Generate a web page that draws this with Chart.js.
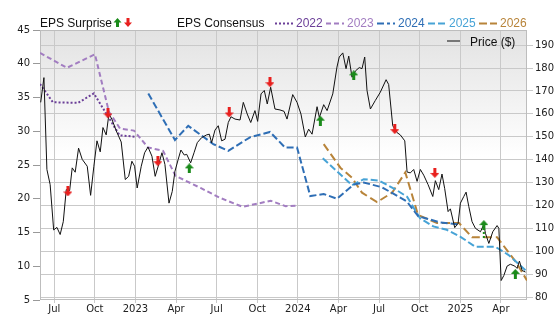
<!DOCTYPE html>
<html>
<head>
<meta charset="utf-8">
<script src="https://cdn.jsdelivr.net/npm/chart.js@4.4.1/dist/chart.umd.min.js"></script>
<style>
html,body{margin:0;padding:0;background:#fff;}
#wrap{position:relative;width:556px;height:315px;font-family:"Liberation Sans",Arial,sans-serif;font-size:12px;color:#111;}
#wrap canvas{position:absolute;left:0;top:0;}
#wrap svg{position:absolute;left:0;top:0;}
.lg{position:absolute;line-height:12px;white-space:nowrap;}
</style>
</head>
<body>
<div id="wrap">
<canvas id="grafico" width="556" height="315"></canvas>
<svg width="556" height="50">
  <polygon points="117.5,18 121.5,22.5 119,22.5 119,27 116,27 116,22.5 113.5,22.5" fill="#1a8a1a"/>
  <polygon points="128,27 132,22.5 129.5,22.5 129.5,18 126.5,18 126.5,22.5 124,22.5" fill="#e8201e"/>
  <line x1="275" y1="23.5" x2="293" y2="23.5" stroke="#6b3f98" stroke-width="2" stroke-dasharray="2,2"/>
  <line x1="326" y1="23.5" x2="344" y2="23.5" stroke="#a27dc1" stroke-width="2" stroke-dasharray="5,3"/>
  <line x1="377" y1="23.5" x2="395" y2="23.5" stroke="#2e6eb5" stroke-width="2" stroke-dasharray="7,3,3,3"/>
  <line x1="428" y1="23.5" x2="446" y2="23.5" stroke="#47a3d6" stroke-width="2" stroke-dasharray="7,3"/>
  <line x1="479" y1="23.5" x2="497" y2="23.5" stroke="#b8843a" stroke-width="2" stroke-dasharray="8,3"/>
  <line x1="447" y1="41" x2="460" y2="41" stroke="#777" stroke-width="2"/>
</svg>
<div class="lg" style="left:40px;top:17px">EPS Surprise</div>
<div class="lg" style="left:177px;top:17px">EPS Consensus</div>
<div class="lg" style="left:296px;top:17px;color:#6b3f98">2022</div>
<div class="lg" style="left:347px;top:17px;color:#a27dc1">2023</div>
<div class="lg" style="left:398px;top:17px;color:#2e6eb5">2024</div>
<div class="lg" style="left:449px;top:17px;color:#47a3d6">2025</div>
<div class="lg" style="left:500px;top:17px;color:#b8843a">2026</div>
<div class="lg" style="left:470px;top:36px">Price ($)</div>
</div>
<script>
// eixo x em meses desde jan/2022 (6 = jul/2022)
const tickMeses = [6,9,12,15,18,21,24,27,30,33,36,39];
const tickRotulos = ['Jul','Oct','2023','Apr','Jul','Oct','2024','Apr','Jul','Oct','2025','Apr'];
const ticksEsq = [5,10,15,20,25,30,35,40,45];
const ticksDir = [80,90,100,110,120,130,140,150,160,170,180,190];

// preço (eixo direito)
const precoMes = [5.0,5.24,5.46,5.70,5.96,6.20,6.44,6.67,6.89,7.14,7.33,7.55,7.80,8.07,8.44,8.69,8.93,9.16,9.40,9.60,
  9.84,10.04,10.26,10.58,10.95,11.25,11.50,11.74,11.94,12.13,12.43,12.68,12.93,13.22,13.46,13.72,13.96,14.18,14.48,14.72,
  14.92,15.16,15.36,15.61,15.79,16.08,16.33,16.57,16.89,17.26,17.46,17.63,17.88,18.12,18.37,18.62,18.86,19.06,19.36,19.73,
  19.97,20.26,20.52,20.83,21.03,21.28,21.52,21.74,21.99,22.31,22.68,22.98,23.20,23.62,23.94,24.23,24.55,24.80,25.05,25.42,
  25.59,25.91,26.16,26.58,26.89,27.06,27.32,27.56,27.76,28.00,28.25,28.54,28.74,28.94,29.11,29.36,29.72,30.09,30.52,30.71,
  31.01,31.33,31.57,31.90,32.07,32.31,32.56,32.81,33.05,33.30,33.62,33.97,34.16,34.41,34.65,34.85,35.10,35.27,35.59,35.84,
  36.01,36.26,36.43,36.63,36.87,37.12,37.49,37.74,37.86,38.11,38.40,38.72,38.85,39.02,39.22,39.46,39.70,40.03,40.20,40.37,
  40.57,40.82];
const precoVal = [165.0,175.8,135.7,129.1,109.3,110.4,107.3,112.9,126.9,126.5,136.4,134.5,145.0,140.1,137.1,124.4,137.1,148.2,143.4,154.0,
  150.8,159.9,157.7,152.6,147.7,131.3,132.7,139.3,137.1,127.6,137.1,143.0,145.5,141.5,132.7,137.9,143.0,137.9,121.0,126.1,
  134.9,140.1,144.2,142.0,142.3,138.6,143.0,147.4,149.6,150.8,151.1,147.4,152.9,154.8,148.2,148.9,156.2,158.7,157.7,157.3,
  165.0,159.9,156.2,161.4,156.7,168.7,170.2,164.3,171.6,162.1,161.7,161.1,157.7,168.4,165.0,159.9,149.9,153.3,151.1,163.1,
  158.4,164.0,161.4,168.7,180.4,184.8,186.6,179.7,185.2,176.0,178.7,180.2,179.7,184.8,170.2,162.1,165.8,169.4,174.9,172.8,
  154.8,151.8,150.8,148.2,134.6,134.2,135.7,130.5,135.7,133.2,129.1,123.9,130.8,126.9,133.7,127.3,117.3,118.5,110.3,112.2,
  121.0,123.9,125.8,119.5,112.9,110.0,108.5,111.7,107.8,103.4,108.5,111.2,110.0,87.2,89.4,93.5,94.3,93.5,92.5,95.7,
  91.6,90.9];

// consenso de EPS por ano fiscal (eixo esquerdo)
const cons2022Mes = [4.95,5.9,7.75,8.93,10.83,11.94];
const cons2022 = [37.0,34.3,34.2,35.6,29.4,29.2];
const cons2023Mes = [4.95,6.94,9.01,10.04,10.86,11.89,12.93,14.04,14.96,16.81,18.29,19.92,22.0,23.1,24.0];
const cons2023 = [41.6,39.4,41.4,32.9,30.4,30.1,27.6,27.1,23.4,21.6,20.1,18.8,19.7,18.9,19.0];
const cons2024Mes = [12.95,14.92,15.90,17.75,18.86,20.46,21.94,23.05,23.94,24.92,25.91,26.89,28.13,28.87,30.22,32.05,32.90,34.51,35.86];
const cons2024 = [35.6,28.7,30.8,28.1,27.1,29.1,29.9,27.6,27.6,20.4,20.7,20.0,22.1,22.4,21.7,19.6,17.4,16.5,16.2];
const cons2025Mes = [25.84,28.00,28.87,29.98,31.20,32.07,33.03,34.01,35.0,35.99,37.1,38.58,39.55,40.93];
const cons2025 = [26.0,22.0,22.9,22.7,21.4,20.3,17.1,15.9,15.4,14.4,12.9,12.9,11.7,9.2];
const cons2026Mes = [25.91,27.14,28.0,28.74,29.85,30.96,31.94,32.88,34.28,35.91,36.87,38.72,40.09,40.93];
const cons2026 = [28.1,24.6,23.1,20.9,19.5,20.9,23.9,17.6,16.4,16.4,14.3,14.3,10.7,7.9];

// surpresas de EPS (posição no eixo de preço)
const superouMes = [15.98,25.66,28.13,37.74,40.07];
const superouVal = [136.2,157.0,176.8,111.4,90.1];
const falhouMes = [7.01,9.97,13.66,18.93,21.94,31.16,34.12];
const falhouVal = [126.1,160.2,139.3,160.6,173.8,153.3,134.2];
const guiaMes = [37.74,37.74];
const guiaVal = [105.8,109.6];

const pts = (xs,ys)=>xs.map((x,i)=>({x:x,y:ys[i]}));

function seta(cor, paraCima){
  const c=document.createElement('canvas'); c.width=9; c.height=10;
  const g=c.getContext('2d'); g.fillStyle=cor; g.beginPath();
  if(paraCima){ g.moveTo(4.5,0); g.lineTo(9,5); g.lineTo(6,5); g.lineTo(6,10); g.lineTo(3,10); g.lineTo(3,5); g.lineTo(0,5); }
  else { g.moveTo(4.5,10); g.lineTo(9,5); g.lineTo(6,5); g.lineTo(6,0); g.lineTo(3,0); g.lineTo(3,5); g.lineTo(0,5); }
  g.closePath(); g.fill(); return c;
}

const corGrade = '#c9c9c9';
const fonteTick = {family:'"DejaVu Sans", sans-serif', size:10};

// fundo em degradê + moldura da área do gráfico
const fundo = {
  id:'fundo',
  beforeDraw(chart){
    const {ctx, chartArea:a} = chart;
    const gr = ctx.createLinearGradient(0,a.top,0,a.bottom);
    gr.addColorStop(0,'#e2e2e2'); gr.addColorStop(0.47,'#ffffff'); gr.addColorStop(1,'#ffffff');
    ctx.save(); ctx.fillStyle=gr; ctx.fillRect(a.left,a.top,a.right-a.left,a.bottom-a.top); ctx.restore();
  },
  beforeDatasetsDraw(chart){
    const {ctx, chartArea:a} = chart;
    ctx.save(); ctx.strokeStyle='#bdbdbd'; ctx.lineWidth=1;
    ctx.strokeRect(a.left+0.5,a.top+0.5,a.right-a.left-1,a.bottom-a.top-1); ctx.restore();
  }
};

const linhaCons = (rotulo, xs, ys, cor, tracejado) => ({
  label:rotulo, data:pts(xs,ys), yAxisID:'yEsq', borderColor:cor, borderWidth:2,
  borderDash:tracejado, pointRadius:0, tension:0, fill:false
});

const ctx = document.getElementById('grafico').getContext('2d');
const grafico = new Chart(ctx,{
  type:'line',
  data:{datasets:[
    {label:'Superou', data:pts(superouMes,superouVal), yAxisID:'yDir', showLine:false, pointStyle:seta('#1a8a1a',true), pointRadius:5},
    {label:'Falhou', data:pts(falhouMes,falhouVal), yAxisID:'yDir', showLine:false, pointStyle:seta('#e8201e',false), pointRadius:5},
    {label:'Guia', data:pts(guiaMes,guiaVal), yAxisID:'yDir', borderColor:'#1a8a1a', borderWidth:2, borderDash:[2,2], pointRadius:0},
    {label:'Price ($)', data:pts(precoMes,precoVal), yAxisID:'yDir', borderColor:'#111', borderWidth:1, pointRadius:0, tension:0},
    linhaCons('2022', cons2022Mes, cons2022, '#6b3f98', [2,2]),
    linhaCons('2023', cons2023Mes, cons2023, '#a27dc1', [5,3]),
    linhaCons('2024', cons2024Mes, cons2024, '#2e6eb5', [7,3]),
    linhaCons('2025', cons2025Mes, cons2025, '#47a3d6', [7,3]),
    linhaCons('2026', cons2026Mes, cons2026, '#b8843a', [8,4])
  ]},
  options:{
    responsive:false, animation:false, events:[],
    layout:{padding:{top:30,left:0,right:0,bottom:0}},
    plugins:{legend:{display:false}, tooltip:{enabled:false}},
    scales:{
      x:{type:'linear', min:4.95, max:40.93,
        afterBuildTicks:s=>{ s.ticks = tickMeses.map(v=>({value:v})); },
        afterFit:s=>{ s.height=15; },
        ticks:{callback:(v,i)=>tickRotulos[i], font:fonteTick, color:'#222', padding:0, maxRotation:0, autoSkip:false},
        grid:{color:corGrade, tickLength:3}, border:{display:false}},
      yEsq:{position:'left', min:5, max:45,
        afterBuildTicks:s=>{ s.ticks = ticksEsq.map(v=>({value:v})); },
        afterFit:s=>{ s.width=40; },
        ticks:{font:fonteTick, color:'#222', padding:3},
        grid:{drawOnChartArea:false, color:'#999', tickLength:7}, border:{display:false}},
      yDir:{position:'right', min:78.7, max:196.6,
        afterBuildTicks:s=>{ s.ticks = ticksDir.map(v=>({value:v})); },
        afterFit:s=>{ s.width=29; },
        ticks:{font:fonteTick, color:'#222', padding:2},
        grid:{color:corGrade, tickLength:6}, border:{display:false}}
    }
  },
  plugins:[fundo]
});
</script>
</body>
</html>
